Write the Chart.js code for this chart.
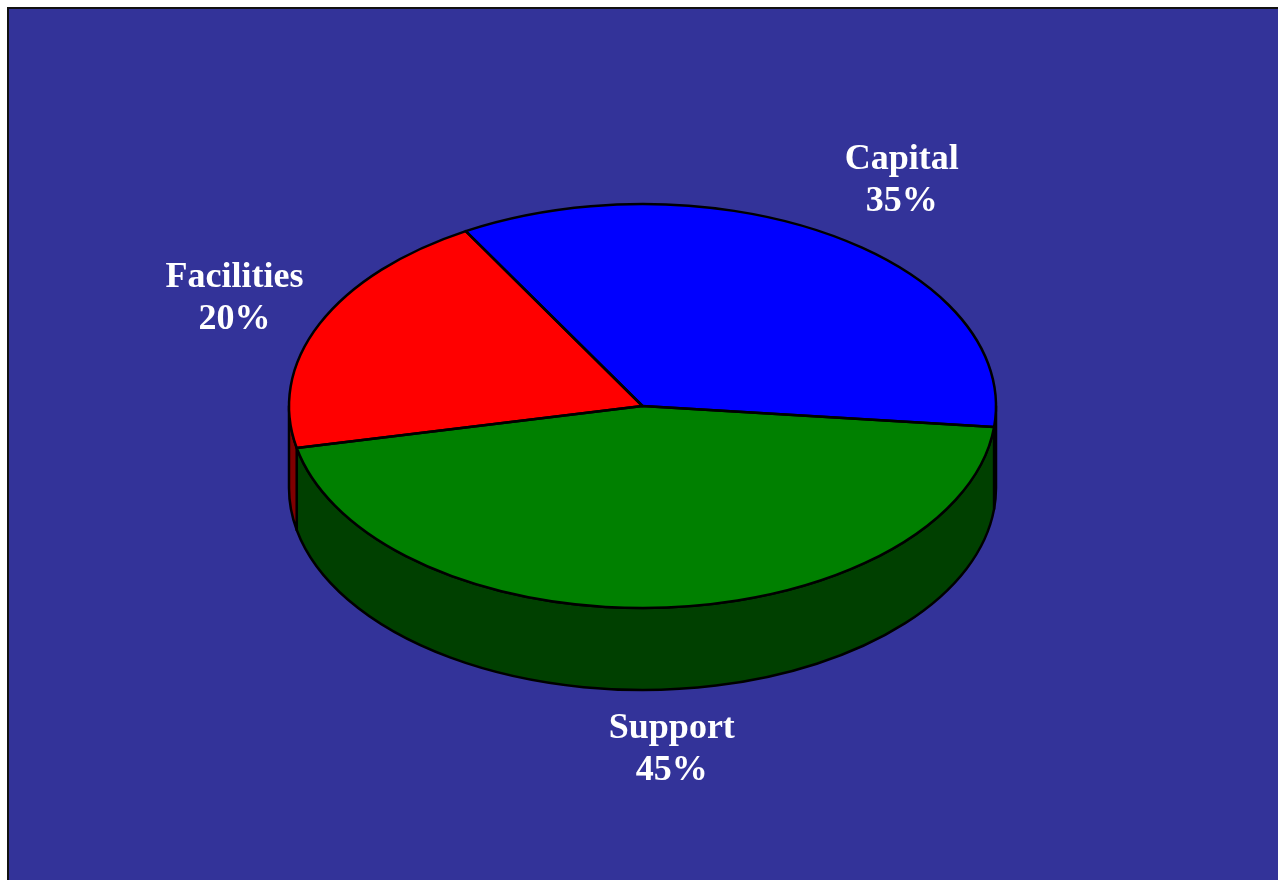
<!DOCTYPE html>
<html>
<head>
<meta charset="utf-8">
<script src="https://cdn.jsdelivr.net/npm/chart.js@4/dist/chart.umd.min.js"></script>
<style>
  html, body { margin: 0; padding: 0; background: #ffffff; overflow: hidden; }
  #frame { position: absolute; left: 7px; top: 7px; border-left: 2px solid #111; border-top: 2px solid #111; background: #333399; }
  canvas { display: block; }
</style>
</head>
<body>
<div id="frame"><canvas id="c" width="1269" height="871"></canvas></div>
<script>
// ---- data ----
const categories = ['Capital', 'Support', 'Facilities'];
const values = [35, 45, 20];
const percentLabels = ['35%', '45%', '20%'];
const sliceColors = ['#0000FF', '#008000', '#FF0000'];
const wallColors = ['#000080', '#004000', '#800000'];

// ---- 3D look settings ----
const TILT = 202 / 353.5;   // vertical squash of the pie
const DEPTH = 82;           // thickness of the pie in px
const LINE_W = 2.5;
const LABEL_FONT = 'bold 36px "Liberation Serif", "Times New Roman", serif';

function frontRanges(s, e) {
  const out = [];
  for (let k = -1; k <= 1; k++) {
    const lo = Math.max(s, 2 * Math.PI * k);
    const hi = Math.min(e, Math.PI + 2 * Math.PI * k);
    if (hi > lo) out.push([lo, hi]);
  }
  return out;
}

const pie3d = {
  id: 'pie3d',
  beforeDatasetsDraw(chart) {
    const ctx = chart.ctx;
    const arcs = chart.getDatasetMeta(0).data;
    if (!arcs.length) return;
    const cx = arcs[0].x, cy = arcs[0].y, rx = arcs[0].outerRadius, ry = rx * TILT;
    // side walls
    ctx.save();
    ctx.lineWidth = LINE_W;
    ctx.strokeStyle = '#000';
    ctx.lineJoin = 'round';
    arcs.forEach((arc, i) => {
      frontRanges(arc.startAngle, arc.endAngle).forEach(([a0, a1]) => {
        ctx.beginPath();
        ctx.ellipse(cx, cy, rx, ry, 0, a0, a1, false);
        ctx.ellipse(cx, cy + DEPTH, rx, ry, 0, a1, a0, true);
        ctx.closePath();
        ctx.fillStyle = wallColors[i];
        ctx.fill();
        ctx.stroke();
      });
    });
    ctx.restore();
    // squash the top face
    ctx.save();
    ctx.translate(cx, cy);
    ctx.scale(1, TILT);
    ctx.translate(-cx, -cy);
  },
  afterDatasetsDraw(chart) {
    const ctx = chart.ctx;
    ctx.restore();
    const arcs = chart.getDatasetMeta(0).data;
    if (!arcs.length) return;
    const cx = arcs[0].x, cy = arcs[0].y, rx = arcs[0].outerRadius, ry = rx * TILT;
    ctx.save();
    ctx.lineWidth = LINE_W;
    ctx.strokeStyle = '#000';
    ctx.lineJoin = 'round';
    arcs.forEach((arc) => {
      ctx.beginPath();
      ctx.moveTo(cx, cy);
      ctx.ellipse(cx, cy, rx, ry, 0, arc.startAngle, arc.endAngle, false);
      ctx.closePath();
      ctx.stroke();
    });
    ctx.restore();
  },
  afterDraw(chart) {
    const ctx = chart.ctx;
    const arcs = chart.getDatasetMeta(0).data;
    if (!arcs.length) return;
    const cx = arcs[0].x, cy = arcs[0].y, rx = arcs[0].outerRadius, ry = rx * TILT;
    ctx.save();
    ctx.font = LABEL_FONT;
    ctx.fillStyle = '#FFFFFF';
    ctx.textAlign = 'center';
    ctx.textBaseline = 'alphabetic';
    arcs.forEach((arc, i) => {
      const mid = (arc.startAngle + arc.endAngle) / 2;
      const c = Math.cos(mid), s = Math.sin(mid);
      const halfW = ctx.measureText(categories[i]).width / 2;
      const x = cx + rx * 1.05 * c + (Math.abs(c) > 0.2 ? Math.sign(c) * halfW : c * halfW * 3);
      const y = cy + (ry * 1.18 + 35) * s + (s > 0 ? DEPTH * 0.82 : 0);
      ctx.fillText(categories[i], x, y - 8);
      ctx.fillText(percentLabels[i], x, y + 34);
    });
    ctx.restore();
  }
};

new Chart(document.getElementById('c'), {
  type: 'pie',
  data: {
    labels: categories,
    datasets: [{
      data: values,
      backgroundColor: sliceColors,
      borderWidth: 0
    }]
  },
  options: {
    responsive: false,
    animation: false,
    events: [],
    rotation: -30,
    radius: 353.5,
    layout: { padding: { left: 0, top: 0, right: 2, bottom: 77 } },
    plugins: {
      legend: { display: false },
      tooltip: { enabled: false },
      title: { display: false }
    }
  },
  plugins: [pie3d]
});
</script>
</body>
</html>
